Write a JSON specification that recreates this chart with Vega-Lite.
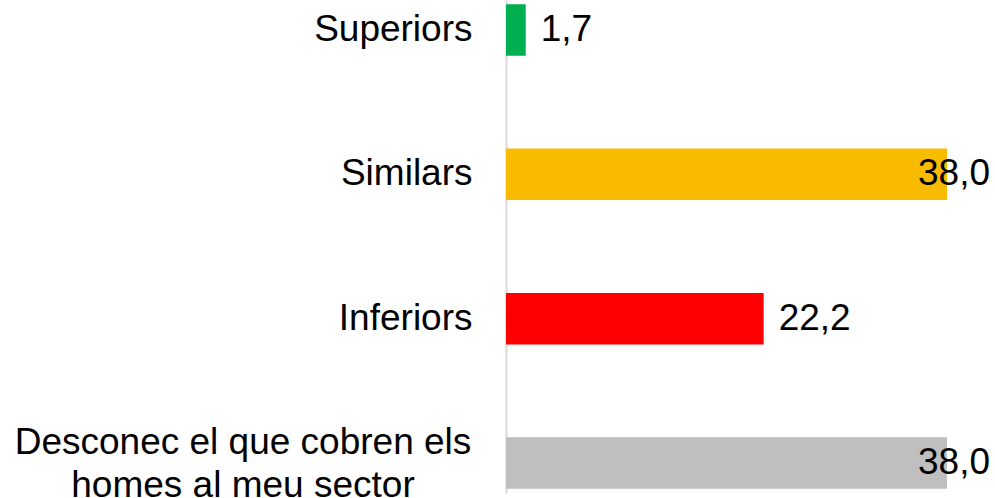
{
  "$schema": "https://vega.github.io/schema/vega-lite/v6.json",
  "autosize": {"type": "none"},
  "padding": {"left": 506, "right": 48, "top": 0, "bottom": 5},
  "width": 441,
  "height": 493,
  "background": "white",
  "config": {"view": {"stroke": null}, "font": "Liberation Sans"},
  "data": {
    "values": [
      {"categoria": "Superiors", "valor": 1.7, "etiqueta": "1,7"},
      {"categoria": "Similars", "valor": 38.0, "etiqueta": "38,0"},
      {"categoria": "Inferiors", "valor": 22.2, "etiqueta": "22,2"},
      {"categoria": "Desconec el que cobren els homes al meu sector", "valor": 38.0, "etiqueta": "38,0"}
    ]
  },
  "encoding": {
    "y": {
      "field": "categoria",
      "type": "nominal",
      "sort": null,
      "scale": {"paddingInner": 0.643, "paddingOuter": 0.03},
      "axis": {
        "title": null,
        "ticks": false,
        "domainColor": "#D9D9D9",
        "domainWidth": 2,
        "labelFont": "Liberation Sans",
        "labelFontSize": 37,
        "labelColor": "black",
        "labelLimit": 600,
        "labelLineHeight": 43,
        "labelExpr": "indexof(datum.value, 'Desconec') >= 0 ? ['Desconec el que cobren els', 'homes al meu sector'] : datum.label",
        "labelAlign": {"condition": {"test": "indexof(datum.value, 'Desconec') >= 0", "value": "center"}, "value": "right"},
        "labelPadding": {"condition": {"test": "indexof(datum.value, 'Desconec') >= 0", "value": 263.5}, "value": 34},
        "labelOffset": {"condition": {"test": "indexof(datum.value, 'Desconec') >= 0", "value": -20}, "value": 0}
      }
    },
    "x": {"field": "valor", "type": "quantitative", "scale": {"domain": [0, 38], "nice": false}, "axis": null}
  },
  "layer": [
    {
      "mark": {"type": "bar"},
      "encoding": {
        "color": {
          "field": "categoria",
          "type": "nominal",
          "legend": null,
          "scale": {
            "domain": ["Superiors", "Similars", "Inferiors", "Desconec el que cobren els homes al meu sector"],
            "range": ["#00B050", "#F9BB00", "#FF0000", "#BFBFBF"]
          }
        }
      }
    },
    {
      "transform": [{"filter": "datum.valor < 30"}],
      "mark": {"type": "text", "align": "left", "baseline": "middle", "dx": 15, "fontSize": 37, "font": "Liberation Sans", "color": "black"},
      "encoding": {"text": {"field": "etiqueta"}}
    },
    {
      "transform": [{"filter": "datum.valor >= 30"}],
      "mark": {"type": "text", "align": "right", "baseline": "middle", "dx": 43, "fontSize": 37, "font": "Liberation Sans", "color": "black"},
      "encoding": {"text": {"field": "etiqueta"}}
    }
  ]
}
